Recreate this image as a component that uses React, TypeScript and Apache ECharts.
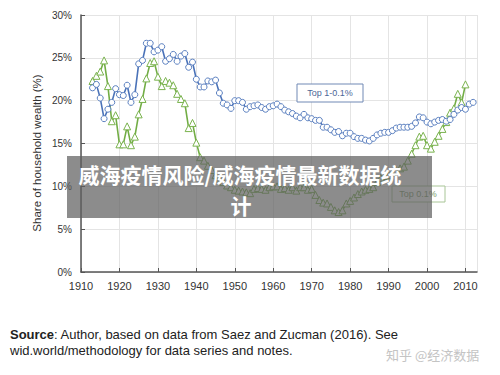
import React, { useEffect, useRef } from "react";
import * as echarts from "echarts";

const startYear = 1913;
const top1to01 = [
  21.5, 21.9, 20.3, 17.9, 19.0, 19.8, 21.4, 20.7, 20.6, 21.8,
  19.8, 20.7, 24.3, 24.7, 26.7, 26.7, 25.7, 25.9, 26.3, 24.6,
  24.9, 25.4, 24.6, 25.2, 25.5, 23.9, 24.5, 22.5, 21.6, 21.6,
  22.3, 22.2, 22.4, 20.9, 19.7, 19.5, 19.1, 20.0, 20.0, 19.8,
  19.0, 19.3, 19.4, 19.5, 19.2, 19.0, 19.3, 19.4, 19.6, 19.3,
  18.9, 18.7, 18.5, 18.2, 18.0, 18.4, 18.0, 17.9, 17.7, 17.7,
  16.9, 16.9, 16.6, 16.3, 16.4, 15.9, 16.2, 16.2, 15.8, 15.6,
  15.6, 15.4, 15.3, 15.6, 16.0, 16.2, 16.3, 16.3, 16.5, 16.8,
  16.9, 16.9, 16.9, 17.0, 17.4, 18.1, 18.0, 17.5, 17.3, 17.5,
  17.7, 17.8, 17.6, 17.8, 18.4, 18.9, 19.2, 19.0, 19.6, 19.8,
];
const top01 = [
  22.3, 22.9, 23.4, 24.7, 21.7, 17.6, 18.3, 14.9, 14.9, 17.0,
  14.8, 15.8, 18.4, 20.2, 22.6, 24.4, 24.6, 22.8, 21.7, 22.3,
  22.1, 21.8, 20.8, 20.2, 19.7, 16.8, 17.4, 15.1, 13.4, 13.0,
  12.4, 11.9, 11.3, 10.9, 10.5, 10.1, 9.9, 9.6, 9.5, 9.4,
  9.3, 9.2, 9.7, 9.8, 9.7, 9.6, 9.9, 10.0, 10.0, 9.7,
  9.8, 9.6, 9.9, 9.5, 9.9, 9.9, 9.6, 9.7, 9.0, 8.4,
  8.1, 8.0, 7.6, 7.2, 7.0, 7.2, 8.0, 8.3, 8.7, 9.1,
  9.4, 9.6, 9.7, 9.9, 10.5, 11.0, 11.2, 11.3, 11.6, 11.9,
  12.1, 12.3, 13.0, 13.8, 14.8, 15.8, 15.9, 14.8, 14.4, 15.2,
  15.9, 16.7, 17.5, 18.6, 19.1, 20.8, 19.8, 21.9,
];
const yTicks = [0, 5, 10, 15, 20, 25, 30];
const xTicks = [1910, 1920, 1930, 1940, 1950, 1960, 1970, 1980, 1990, 2000, 2010];

const toPairs = (vals: number[]) => vals.map((v, i) => [startYear + i, v]);

export default function App() {
  const ref = useRef<HTMLDivElement>(null);
  useEffect(() => {
    if (!ref.current) return;
    document.body.style.margin = "0";
    const chart = echarts.init(ref.current, null, { renderer: "svg" });
    const font = "Liberation Sans, Arial, sans-serif";
    chart.setOption({
      animation: false,
      backgroundColor: "#ffffff",
      grid: { left: 81, top: 15, right: 23, bottom: 103, containLabel: false },
      xAxis: {
        type: "value",
        min: xTicks[0],
        max: 2013,
        interval: 10,
        axisLine: { show: true, lineStyle: { color: "#555", width: 1.5 } },
        axisTick: { show: true, inside: true, length: 4, lineStyle: { color: "#555" } },
        axisLabel: {
          color: "#333",
          fontSize: 11,
          fontFamily: font,
          margin: 8,
          showMaxLabel: false,
          formatter: (v: number) => (xTicks.includes(v) ? String(v) : ""),
        },
        splitLine: { show: true, lineStyle: { color: "#e4e4e4", width: 1 } },
      },
      yAxis: {
        type: "value",
        min: yTicks[0],
        max: yTicks[yTicks.length - 1],
        interval: 5,
        axisLine: { show: true, lineStyle: { color: "#555", width: 1.5 } },
        axisTick: { show: true, inside: true, length: 4, lineStyle: { color: "#555" } },
        axisLabel: {
          color: "#333",
          fontSize: 10,
          fontFamily: font,
          margin: 9,
          formatter: "{value}%",
        },
        splitLine: { show: true, lineStyle: { color: "#e4e4e4", width: 1 } },
      },
      series: [
        {
          name: "Top 1-0.1%",
          type: "line",
          data: toPairs(top1to01),
          symbol: "circle",
          symbolSize: 6,
          lineStyle: { color: "#4a72b8", width: 1.6 },
          itemStyle: { color: "#ffffff", borderColor: "#5a7fc0", borderWidth: 1 },
          z: 3,
        },
        {
          name: "Top 0.1%",
          type: "line",
          data: toPairs(top01),
          symbol: "triangle",
          symbolSize: 7,
          lineStyle: { color: "#72ad45", width: 1.6 },
          itemStyle: { color: "#ffffff", borderColor: "#7ab34e", borderWidth: 1 },
          z: 2,
        },
      ],
      graphic: [
        {
          type: "text",
          x: 37,
          y: 153,
          rotation: Math.PI / 2,
          style: {
            text: "Share of household wealth (%)",
            fill: "#333",
            font: `11.5px ${font}`,
            align: "center",
            verticalAlign: "middle",
          },
        },
        {
          type: "rect",
          shape: { x: 297, y: 84, width: 66, height: 18 },
          style: { fill: "#fff", stroke: "#7189b5", lineWidth: 1 },
          z: 10,
        },
        {
          type: "text",
          x: 330,
          y: 93,
          style: {
            text: "Top 1-0.1%",
            fill: "#4d6797",
            font: `9px ${font}`,
            align: "center",
            verticalAlign: "middle",
          },
          z: 11,
        },
        {
          type: "rect",
          shape: { x: 392, y: 186, width: 53, height: 16 },
          style: { fill: "#fff", stroke: "#a8c596", lineWidth: 1 },
          z: 10,
        },
        {
          type: "text",
          x: 418,
          y: 194,
          style: {
            text: "Top 0.1%",
            fill: "#7d9a6a",
            font: `9px ${font}`,
            align: "center",
            verticalAlign: "middle",
          },
          z: 11,
        },
        {
          type: "rect",
          shape: { x: 67, y: 156, width: 365, height: 62 },
          style: { fill: "rgba(95,95,95,0.72)" },
          z: 100,
        },
        {
          type: "text",
          x: 240,
          y: 174,
          style: {
            text: "威海疫情风险/威海疫情最新数据统",
            fill: "#ffffff",
            font: `bold 21px "Noto Sans CJK SC", sans-serif`,
            align: "center",
            verticalAlign: "middle",
          },
          z: 101,
        },
        {
          type: "text",
          x: 241,
          y: 205,
          style: {
            text: "计",
            fill: "#ffffff",
            font: `bold 21px "Noto Sans CJK SC", sans-serif`,
            align: "center",
            verticalAlign: "middle",
          },
          z: 101,
        },
        {
          type: "text",
          x: 10,
          y: 334,
          style: {
            text: "{b|Source}: Author, based on data from Saez and Zucman (2016). See",
            fill: "#222",
            font: `13px ${font}`,
            verticalAlign: "middle",
            rich: {
              b: { fontWeight: "bold", fontSize: 13, fontFamily: font, fill: "#222" },
            },
          },
        },
        {
          type: "text",
          x: 10,
          y: 350,
          style: {
            text: "wid.world/methodology for data series and notes.",
            fill: "#222",
            font: `13px ${font}`,
            verticalAlign: "middle",
          },
        },
        {
          type: "text",
          x: 386,
          y: 354,
          style: {
            text: "知乎 @经济数据",
            fill: "#c4c4c4",
            font: `13px "Noto Sans CJK SC", sans-serif`,
            verticalAlign: "middle",
          },
        },
      ],
    });
    return () => chart.dispose();
  }, []);
  return <div ref={ref} style={{ width: 500, height: 375 }} />;
}
